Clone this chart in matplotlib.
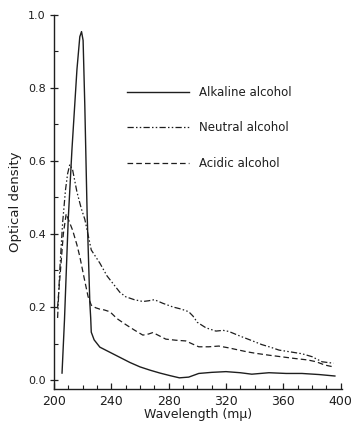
"""Absorption spectra of the pigment in alkaline, neutral and acidic alcohol."""

import matplotlib

matplotlib.use("Agg")
import matplotlib.pyplot as plt
from matplotlib.ticker import MultipleLocator, FormatStrFormatter

INK = "#1e1e1e"

# wavelength (m\u03bc) and optical density
alkaline_wl = [205.6, 207.3, 209.9, 212.5, 216.0, 218.0, 219.2, 220.3, 221.5,
               223.1, 225.0, 225.6, 226.0, 228.0, 232, 239, 246, 253, 260, 267,
               274, 281, 287.5, 294, 301, 310, 320, 330, 338, 350, 362, 373,
               385, 396]
alkaline_od = [0.019, 0.164, 0.438, 0.63, 0.85, 0.94, 0.954, 0.93, 0.75,
               0.457, 0.211, 0.17, 0.131, 0.11, 0.09, 0.076, 0.062, 0.048,
               0.036, 0.027, 0.019, 0.012, 0.006, 0.008, 0.018, 0.021, 0.023,
               0.02, 0.016, 0.02, 0.018, 0.018, 0.015, 0.011]

neutral_wl = [202.5, 204, 206, 208, 209.5, 211, 213, 216, 219, 221.5, 226,
              232, 237, 242, 246, 250, 256, 262, 266, 270, 276, 283, 289, 294,
              297, 300, 306, 313, 318, 322, 330, 338, 345, 351, 357, 365, 373,
              380, 387, 395]
neutral_od = [0.17, 0.3, 0.43, 0.52, 0.565, 0.59, 0.575, 0.515, 0.47, 0.44,
              0.356, 0.32, 0.285, 0.26, 0.24, 0.228, 0.22, 0.215, 0.217, 0.22,
              0.21, 0.2, 0.194, 0.187, 0.175, 0.158, 0.143, 0.134, 0.136,
              0.133, 0.12, 0.108, 0.097, 0.09, 0.082, 0.077, 0.072, 0.064,
              0.05, 0.046]

acidic_wl = [202.5, 204.5, 206.5, 208.5, 210, 213, 216, 218, 221, 223.8, 226,
             229, 232, 235, 239, 244, 250, 256, 262, 266, 269, 273, 278, 285,
             292, 297, 301, 308, 315, 322, 329, 335, 341, 350, 360, 368, 377,
             383, 389, 395]
acidic_od = [0.2, 0.3, 0.4, 0.455, 0.44, 0.41, 0.37, 0.338, 0.28, 0.228,
             0.205, 0.198, 0.194, 0.192, 0.187, 0.168, 0.152, 0.137, 0.123,
             0.126, 0.13, 0.122, 0.112, 0.109, 0.107, 0.098, 0.091, 0.091,
             0.093, 0.088, 0.082, 0.077, 0.073, 0.068, 0.063, 0.059, 0.055,
             0.05, 0.041, 0.036]

x_ticks = [200, 240, 280, 320, 360, 400]
y_ticks = [0.0, 0.2, 0.4, 0.6, 0.8, 1.0]


def main() -> None:
    figure = plt.figure(figsize=(3.53, 4.23), dpi=100)
    axis = figure.add_axes([0.153, 0.080, 0.816, 0.885])

    axis.plot(alkaline_wl, alkaline_od, color=INK, linewidth=1.0,
              linestyle="-", label="Alkaline alcohol")
    axis.plot(neutral_wl, neutral_od, color=INK, linewidth=0.9,
              linestyle=(0, (5, 1.8, 1.2, 1.8, 1.2, 1.8)),
              label="Neutral alcohol")
    axis.plot(acidic_wl, acidic_od, color=INK, linewidth=0.9,
              linestyle=(0, (4.5, 2.5)), label="Acidic alcohol")

    axis.set_xlim(200, 401)
    axis.set_ylim(-0.025, 1.0)
    axis.set_xticks(x_ticks)
    axis.set_yticks(y_ticks)
    axis.xaxis.set_minor_locator(MultipleLocator(10))
    axis.yaxis.set_minor_locator(MultipleLocator(0.1))
    axis.yaxis.set_major_formatter(FormatStrFormatter("%.1f"))

    for side in ("top", "right"):
        axis.spines[side].set_visible(False)
    for side in ("left", "bottom"):
        axis.spines[side].set_color(INK)
        axis.spines[side].set_linewidth(1.0)

    axis.tick_params(axis="x", which="major", direction="in", length=4,
                     width=0.9, pad=4, labelsize=9, colors=INK)
    axis.tick_params(axis="x", which="minor", direction="in", length=3,
                     width=0.8, colors=INK)
    axis.tick_params(axis="y", which="major", direction="inout", length=6,
                     width=0.9, pad=3, labelsize=8, colors=INK)
    axis.tick_params(axis="y", which="minor", direction="in", length=3,
                     width=0.8, colors=INK)

    axis.set_xlabel("Wavelength (m\u03bc)", fontsize=9, color=INK,
                    labelpad=0)
    axis.set_ylabel("Optical density", fontsize=9.5, color=INK, labelpad=4)

    legend = axis.legend(loc="upper left", bbox_to_anchor=(0.255, 0.81),
                         frameon=False, fontsize=8.5, handlelength=5.2,
                         handletextpad=0.9, labelspacing=1.9, borderpad=0,
                         borderaxespad=0)
    for text in legend.get_texts():
        text.set_color(INK)

    figure.savefig("out.png", dpi=100, facecolor="white")
    plt.close(figure)


if __name__ == "__main__":
    main()
